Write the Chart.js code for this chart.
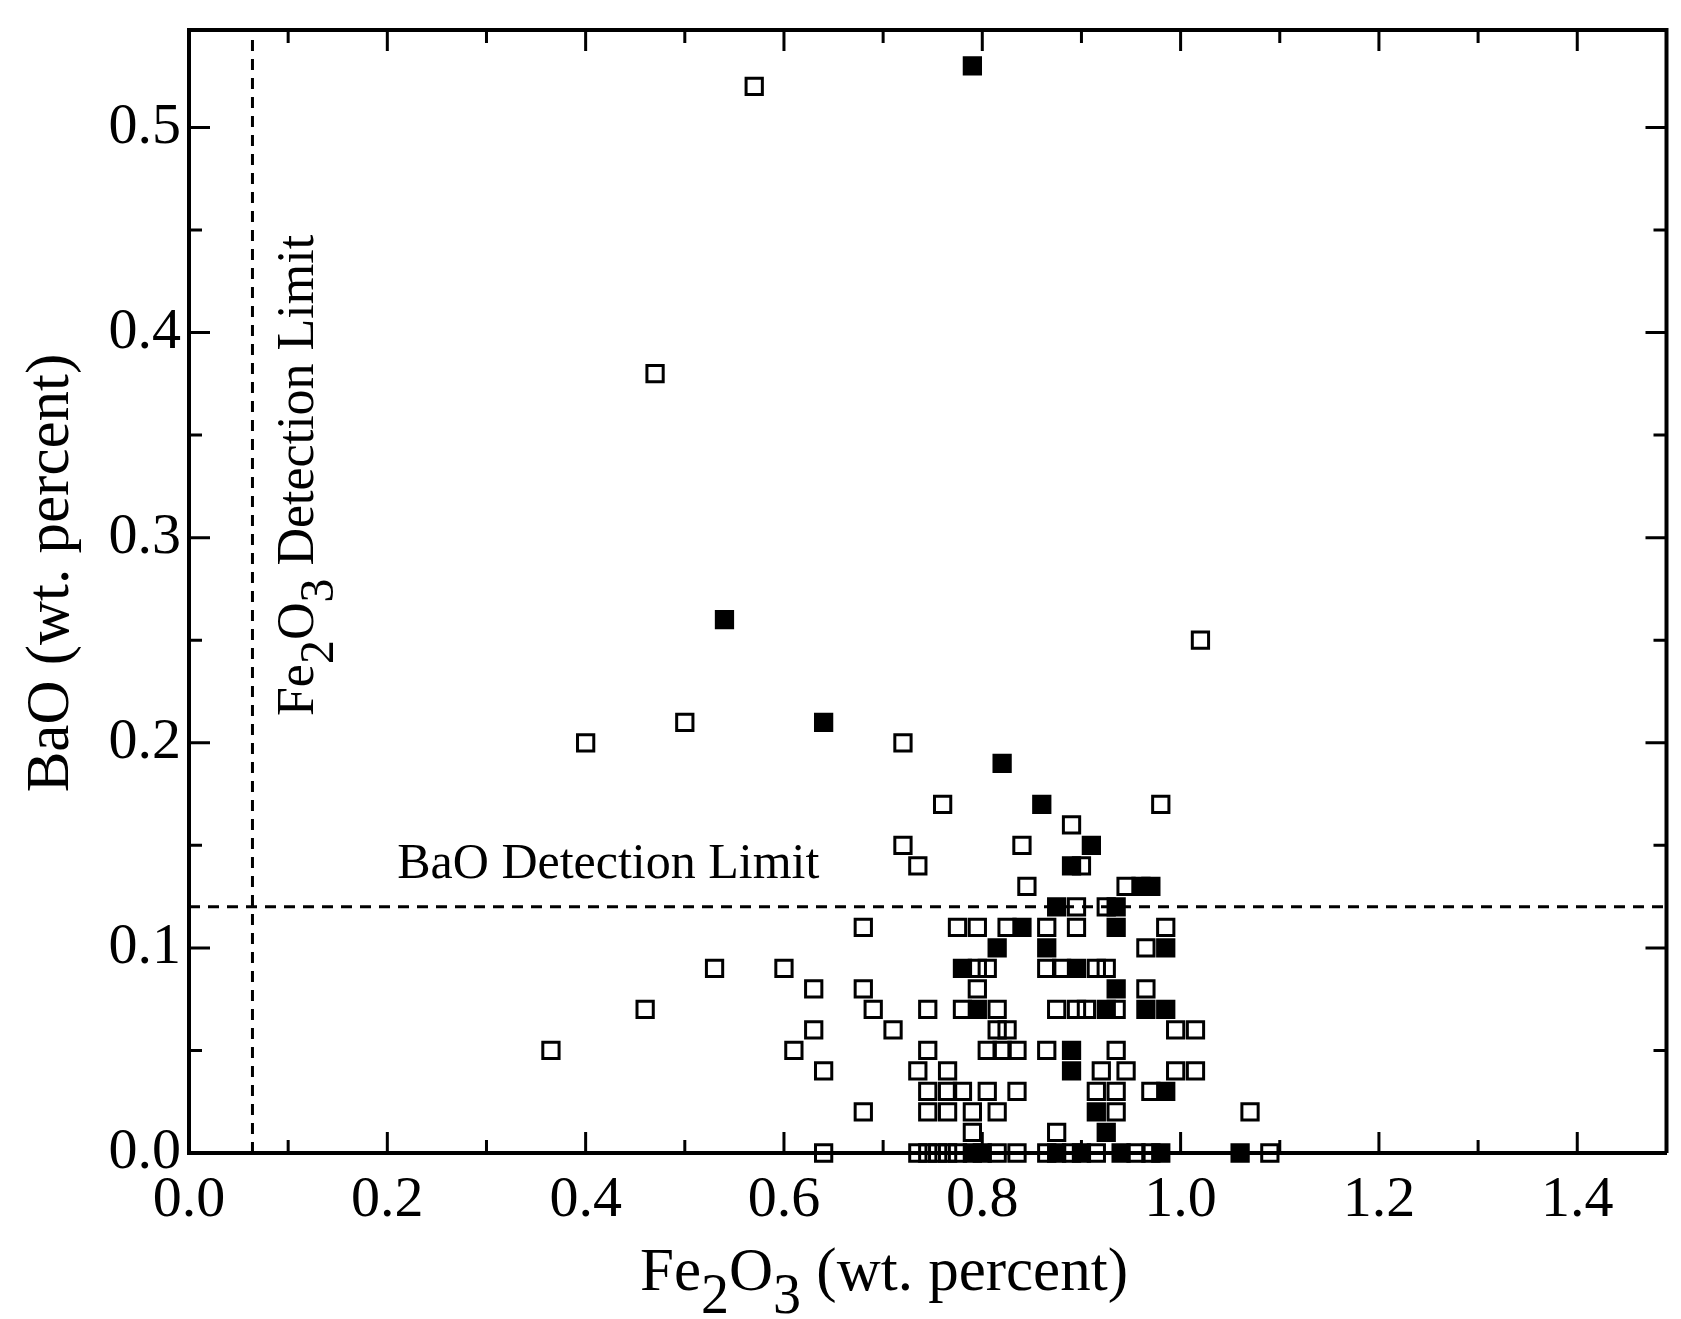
<!DOCTYPE html>
<html>
<head>
<meta charset="utf-8">
<script src="https://cdn.jsdelivr.net/npm/chart.js@4.4.1/dist/chart.umd.min.js"></script>
<style>
  html, body { margin: 0; padding: 0; background: #fff; }
  #marco { width: 1681px; height: 1319px; position: relative; }
</style>
</head>
<body>
<div id="marco"><canvas id="baoChart"></canvas></div>
<script>
// Muestras con símbolo abierto
const fe2o3Abiertos = [
  0.365, 0.40, 0.46, 0.47, 0.50, 0.53, 0.57, 0.60, 0.61, 0.63,
  0.63, 0.64, 0.64, 0.68, 0.68, 0.69, 0.68, 0.71, 0.72, 0.72,
  0.735, 0.76, 0.745, 0.745, 0.735, 0.765, 0.745, 0.765, 0.78, 0.805,
  0.745, 0.765, 0.79, 0.815, 0.79, 0.735, 0.745, 0.755, 0.765, 0.775,
  0.815, 0.835, 0.775, 0.795, 0.825, 0.865, 0.795, 0.805, 0.865, 0.795,
  0.78, 0.815, 0.875, 0.815, 0.825, 0.805, 0.82, 0.835, 0.865, 0.835,
  0.875, 0.865, 0.84, 0.845, 0.89, 0.98, 0.90, 0.945, 0.895, 0.925,
  0.895, 0.985, 0.965, 0.88, 0.915, 0.925, 0.965, 0.895, 0.905, 0.935,
  0.995, 1.015, 0.935, 0.92, 0.945, 0.995, 1.015, 0.915, 0.935, 0.97,
  0.935, 1.07, 0.89, 0.915, 0.955, 0.97, 1.09, 1.02
];
const baoAbiertos = [
  0.05, 0.20, 0.07, 0.38, 0.21, 0.09, 0.52, 0.09, 0.05, 0.08,
  0.06, 0.04, 0.00, 0.11, 0.08, 0.07, 0.02, 0.06, 0.20, 0.15,
  0.14, 0.17, 0.07, 0.05, 0.04, 0.04, 0.03, 0.03, 0.03, 0.03,
  0.02, 0.02, 0.02, 0.02, 0.01, 0.00, 0.00, 0.00, 0.00, 0.00,
  0.00, 0.00, 0.11, 0.11, 0.11, 0.11, 0.09, 0.09, 0.09, 0.08,
  0.07, 0.07, 0.07, 0.06, 0.06, 0.05, 0.05, 0.05, 0.05, 0.03,
  0.01, 0.00, 0.15, 0.13, 0.16, 0.17, 0.14, 0.13, 0.12, 0.12,
  0.11, 0.11, 0.10, 0.09, 0.09, 0.09, 0.08, 0.07, 0.07, 0.07,
  0.06, 0.06, 0.05, 0.04, 0.04, 0.04, 0.04, 0.03, 0.03, 0.03,
  0.02, 0.02, 0.00, 0.00, 0.00, 0.00, 0.00, 0.25
];

// Muestras con símbolo relleno
const fe2o3Rellenos = [
  0.54, 0.64, 0.79, 0.82, 0.86, 0.91, 0.89, 0.96, 0.97, 0.875,
  0.935, 0.84, 0.935, 0.815, 0.865, 0.985, 0.78, 0.895, 0.935, 0.795,
  0.925, 0.965, 0.985, 0.89, 0.89, 0.985, 0.915, 0.925, 0.79, 0.80,
  0.875, 0.90, 0.94, 0.98, 1.06
];
const baoRellenos = [
  0.26, 0.21, 0.53, 0.19, 0.17, 0.15, 0.14, 0.13, 0.13, 0.12,
  0.12, 0.11, 0.11, 0.10, 0.10, 0.10, 0.09, 0.09, 0.08, 0.07,
  0.07, 0.07, 0.07, 0.05, 0.04, 0.03, 0.02, 0.01, 0.00, 0.00,
  0.00, 0.00, 0.00, 0.00, 0.00
];

const ticksX = [0.0, 0.2, 0.4, 0.6, 0.8, 1.0, 1.2, 1.4];
const ticksY = [0.0, 0.1, 0.2, 0.3, 0.4, 0.5];

const limiteBaO = 0.12;
const limiteFe2O3 = 0.064;

const fuente = '"Liberation Serif", "Times New Roman", serif';

const aPuntos = (xs, ys) => xs.map((x, i) => ({ x: x, y: ys[i] }));

// texto con subíndices: las partes que empiezan con "_" van bajadas
function dibujarFormula(ctx, partes, x, y, tam) {
  let cx = x;
  partes.forEach(p => {
    const sub = p.startsWith('_');
    const txt = sub ? p.slice(1) : p;
    ctx.font = `${sub ? Math.round(tam * 0.92) : tam}px ${fuente}`;
    ctx.fillText(txt, cx, y + (sub ? tam * 0.38 : 0));
    cx += ctx.measureText(txt).width;
  });
}

function anchoFormula(ctx, partes, tam) {
  let w = 0;
  partes.forEach(p => {
    const sub = p.startsWith('_');
    const txt = sub ? p.slice(1) : p;
    ctx.font = `${sub ? Math.round(tam * 0.92) : tam}px ${fuente}`;
    w += ctx.measureText(txt).width;
  });
  return w;
}

const marcoPlugin = {
  id: 'marcoPlugin',
  beforeDatasetsDraw(chart) {
    const { ctx, chartArea: a, scales: { x, y } } = chart;
    ctx.save();
    ctx.strokeStyle = '#000';
    ctx.lineWidth = 3;
    ctx.setLineDash([11, 8]);
    const yl = y.getPixelForValue(limiteBaO);
    ctx.beginPath();
    ctx.moveTo(a.left, yl);
    ctx.lineTo(a.right, yl);
    ctx.stroke();
    const xl = x.getPixelForValue(limiteFe2O3);
    ctx.beginPath();
    ctx.moveTo(xl, a.bottom);
    ctx.lineTo(xl, a.top);
    ctx.stroke();
    ctx.restore();

    // rótulos de los límites
    ctx.save();
    ctx.fillStyle = '#000';
    ctx.textBaseline = 'alphabetic';
    ctx.textAlign = 'left';
    ctx.font = `50px ${fuente}`;
    ctx.fillText('BaO Detection Limit', x.getPixelForValue(0.21), y.getPixelForValue(0.134));
    ctx.translate(x.getPixelForValue(0.125), y.getPixelForValue(0.213));
    ctx.rotate(-Math.PI / 2);
    dibujarFormula(ctx, ['Fe', '_2', 'O', '_3', ' Detection Limit'], 0, 0, 52);
    ctx.restore();
  },
  afterDraw(chart) {
    const { ctx, chartArea: a, scales: { x, y } } = chart;
    ctx.save();
    ctx.strokeStyle = '#000';
    ctx.lineWidth = 4;
    ctx.beginPath();
    ctx.moveTo(a.left, a.top);
    ctx.lineTo(a.right, a.top);
    ctx.lineTo(a.right, a.bottom);
    ctx.stroke();

    // marcas hacia adentro
    ctx.lineWidth = 3;
    for (let i = 1; i <= 14; i++) {
      const v = i / 10;
      const px = x.getPixelForValue(v);
      const largo = i % 2 === 0 ? 21 : 13;
      ctx.beginPath();
      ctx.moveTo(px, a.bottom);
      ctx.lineTo(px, a.bottom - largo);
      ctx.moveTo(px, a.top);
      ctx.lineTo(px, a.top + largo);
      ctx.stroke();
    }
    for (let i = 1; i <= 10; i++) {
      const v = i / 20;
      const py = y.getPixelForValue(v);
      const largo = i % 2 === 0 ? 21 : 13;
      ctx.beginPath();
      ctx.moveTo(a.left, py);
      ctx.lineTo(a.left + largo, py);
      ctx.moveTo(a.right, py);
      ctx.lineTo(a.right - largo, py);
      ctx.stroke();
    }

    // títulos de los ejes
    ctx.fillStyle = '#000';
    ctx.textBaseline = 'alphabetic';
    ctx.textAlign = 'left';
    const partesX = ['Fe', '_2', 'O', '_3', ' (wt. percent)'];
    const wx = anchoFormula(ctx, partesX, 61);
    dibujarFormula(ctx, partesX, 884 - wx / 2, 1290, 61);

    ctx.translate(68, 573);
    ctx.rotate(-Math.PI / 2);
    ctx.textAlign = 'center';
    ctx.font = `61px ${fuente}`;
    ctx.fillText('BaO (wt. percent)', 0, 0);
    ctx.restore();
  }
};

const ctx = document.getElementById('baoChart').getContext('2d');
new Chart(ctx, {
  type: 'scatter',
  data: {
    datasets: [
      {
        label: 'Rellenos',
        data: aPuntos(fe2o3Rellenos, baoRellenos),
        pointStyle: 'rect',
        pointRadius: 11.5,
        pointBackgroundColor: '#000',
        pointBorderColor: '#000',
        pointBorderWidth: 3,
        clip: false,
        order: 0
      },
      {
        label: 'Abiertos',
        data: aPuntos(fe2o3Abiertos, baoAbiertos),
        pointStyle: 'rect',
        pointRadius: 11.5,
        pointBackgroundColor: 'rgba(0,0,0,0)',
        pointBorderColor: '#000',
        pointBorderWidth: 3,
        clip: false,
        order: 1
      }
    ]
  },
  options: {
    responsive: true,
    maintainAspectRatio: false,
    animation: false,
    layout: { padding: { top: 30, right: 2, left: 0, bottom: 0 } },
    plugins: {
      legend: { display: false },
      tooltip: { enabled: false }
    },
    scales: {
      x: {
        type: 'linear',
        min: 0,
        max: 1.49,
        afterFit: (s) => { s.height = 166; s.paddingLeft = 0; s.paddingRight = 0; },
        afterBuildTicks: (s) => { s.ticks = ticksX.map(v => ({ value: v })); },
        grid: { display: false, drawTicks: false },
        border: { display: true, color: '#000', width: 4 },
        ticks: {
          autoSkip: false,
          maxRotation: 0,
          padding: 13,
          color: '#000',
          font: { family: fuente, size: 58 },
          callback: (v) => v.toFixed(1)
        }
      },
      y: {
        type: 'linear',
        min: 0,
        max: 0.5475,
        afterFit: (s) => { s.width = 189; s.paddingTop = 0; s.paddingBottom = 0; },
        afterBuildTicks: (s) => { s.ticks = ticksY.map(v => ({ value: v })); },
        grid: { display: false, drawTicks: false },
        border: { display: true, color: '#000', width: 4 },
        ticks: {
          autoSkip: false,
          padding: 8,
          color: '#000',
          font: { family: fuente, size: 58 },
          callback: (v) => v.toFixed(1)
        }
      }
    }
  },
  plugins: [marcoPlugin]
});
</script>
</body>
</html>
